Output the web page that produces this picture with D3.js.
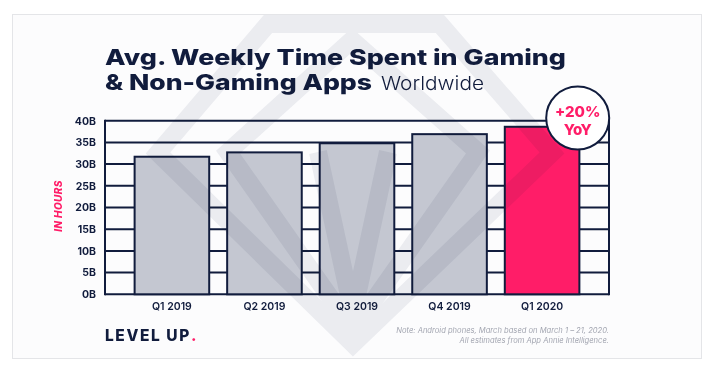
<!DOCTYPE html>
<html>
<head>
<meta charset="utf-8">
<script src="https://cdn.jsdelivr.net/npm/d3@7"></script>
<style>
  html, body { margin: 0; padding: 0; background: #fff; }
  svg { display: block; font-family: Inter, "Noto Sans", sans-serif; }
</style>
</head>
<body>
<script>
// chart data
const quarters = ["Q1 2019", "Q2 2019", "Q3 2019", "Q4 2019", "Q1 2020"];
const hours = [31.7, 32.7, 34.8, 36.9, 38.6]; // billions of hours
const yTicks = [0, 5, 10, 15, 20, 25, 30, 35, 40];
const highlight = "Q1 2020";

const navy = "#111c3d";
const pink = "#ff1d68";
const barGray = "#c4c7d1";

const width = 714, height = 365;
const plot = { left: 105, right: 609, top: 120.7, bottom: 294.3 };

const svg = d3.select("body").append("svg")
    .attr("width", width).attr("height", height);

// card
svg.append("rect")
    .attr("x", 12.5).attr("y", 14.5).attr("width", 689).attr("height", 344)
    .attr("fill", "#fcfcfd").attr("stroke", "#e4e5e8");
svg.append("clipPath").attr("id", "card")
    .append("rect").attr("x", 13).attr("y", 15).attr("width", 688).attr("height", 343);

// scales
const x = d3.scaleBand().domain(quarters)
    .range([plot.left, plot.right]).paddingInner(0.194).paddingOuter(0.32);
const y = d3.scaleLinear().domain([0, 40]).range([plot.bottom, plot.top]);

// title
const title = svg.append("g").attr("fill", navy);
title.append("text")
    .attr("x", 105).attr("y", 64.5)
    .attr("font-size", 22).attr("font-weight", 800)
    .attr("textLength", 461).attr("lengthAdjust", "spacingAndGlyphs")
    .text("Avg. Weekly Time Spent in Gaming");
title.append("text")
    .attr("x", 105).attr("y", 89.5)
    .attr("font-size", 22).attr("font-weight", 800)
    .attr("textLength", 267).attr("lengthAdjust", "spacingAndGlyphs")
    .text("& Non-Gaming Apps");
title.append("text")
    .attr("x", 381).attr("y", 89.5)
    .attr("font-size", 18.5).attr("font-weight", 300)
    .attr("textLength", 103).attr("lengthAdjust", "spacingAndGlyphs")
    .text("Worldwide");

// grid lines (drawn as the frame behind the bars)
const grid = svg.append("g").attr("stroke", navy).attr("stroke-width", 2);
grid.selectAll("line.h").data(yTicks).join("line")
    .attr("class", "h")
    .attr("x1", plot.left).attr("x2", plot.right)
    .attr("y1", d => y(d)).attr("y2", d => y(d));
grid.selectAll("line.v").data([plot.left, plot.right]).join("line")
    .attr("class", "v")
    .attr("x1", d => d).attr("x2", d => d)
    .attr("y1", y(40) - 1).attr("y2", y(0) + 1);

// bars
svg.append("g").selectAll("rect").data(quarters).join("rect")
    .attr("x", d => x(d))
    .attr("y", (d, i) => y(hours[i]))
    .attr("width", x.bandwidth())
    .attr("height", (d, i) => y(0) - y(hours[i]))
    .attr("fill", d => d === highlight ? pink : barGray)
    .attr("stroke", navy).attr("stroke-width", 2);

// y axis labels
const yAxis = svg.append("g")
    .attr("transform", `translate(${plot.left - 9},0)`)
    .call(d3.axisLeft(y).tickValues(yTicks).tickSize(0).tickPadding(0)
        .tickFormat(d => d + "B"));
yAxis.select(".domain").remove();
yAxis.selectAll("text")
    .attr("fill", navy).attr("font-size", 10.5).attr("font-weight", 700)
    .attr("font-family", "Inter, sans-serif");

// x axis labels
const xAxis = svg.append("g")
    .attr("transform", `translate(0,${plot.bottom + 8})`)
    .call(d3.axisBottom(x).tickSize(0).tickPadding(0));
xAxis.select(".domain").remove();
xAxis.selectAll("text")
    .attr("fill", navy).attr("font-size", 10.5).attr("font-weight", 600)
    .attr("font-family", "Inter, sans-serif");

// axis title
svg.append("text")
    .attr("transform", "translate(61.5,206) rotate(-90)")
    .attr("text-anchor", "middle")
    .attr("fill", pink).attr("font-size", 10).attr("font-weight", 800)
    .attr("font-style", "italic").attr("letter-spacing", 0.4)
    .text("IN HOURS");

// watermark gem logo, faint and multiplied over everything
const wm = svg.append("g")
    .attr("clip-path", "url(#card)")
    .attr("fill", "none").attr("stroke", "#cfd2db")
    .attr("stroke-width", 18).attr("stroke-linejoin", "miter")
    .style("mix-blend-mode", "multiply").attr("opacity", 0.36);
wm.append("path").attr("d", "M268,24 L440,24 L552,153 L353,344 L158,153 Z");
wm.append("path").attr("d", "M352,40 L228,152 L353,330 L478,152 Z");
wm.append("path").attr("d", "M318,152 L353,314 L388,152");

// badge
const badge = svg.append("g").attr("transform", "translate(577.7,118)");
badge.append("circle").attr("r", 31.5)
    .attr("fill", "#fff").attr("stroke", navy).attr("stroke-width", 2);
badge.append("text").attr("y", -1.5).attr("text-anchor", "middle")
    .attr("fill", pink).attr("font-size", 15).attr("font-weight", 800)
    .text("+20%");
badge.append("text").attr("y", 17).attr("text-anchor", "middle")
    .attr("fill", pink).attr("font-size", 15).attr("font-weight", 800)
    .text("YoY");

// footer brand
const brand = svg.append("text")
    .attr("x", 105).attr("y", 341)
    .attr("fill", navy).attr("font-size", 15.5).attr("font-weight", 800);
brand.append("tspan").attr("letter-spacing", 1.6).text("LEVEL UP");
brand.append("tspan").attr("fill", pink).text(".");

// note
const note = svg.append("g")
    .attr("fill", "#a3a6b1").attr("font-size", 7.6)
    .attr("font-style", "italic").attr("text-anchor", "end");
note.append("text").attr("x", 609).attr("y", 332.5)
    .text("Note: Android phones, March based on March 1 \u2013 21, 2020.");
note.append("text").attr("x", 609).attr("y", 343)
    .text("All estimates from App Annie Intelligence.");
</script>
</body>
</html>
